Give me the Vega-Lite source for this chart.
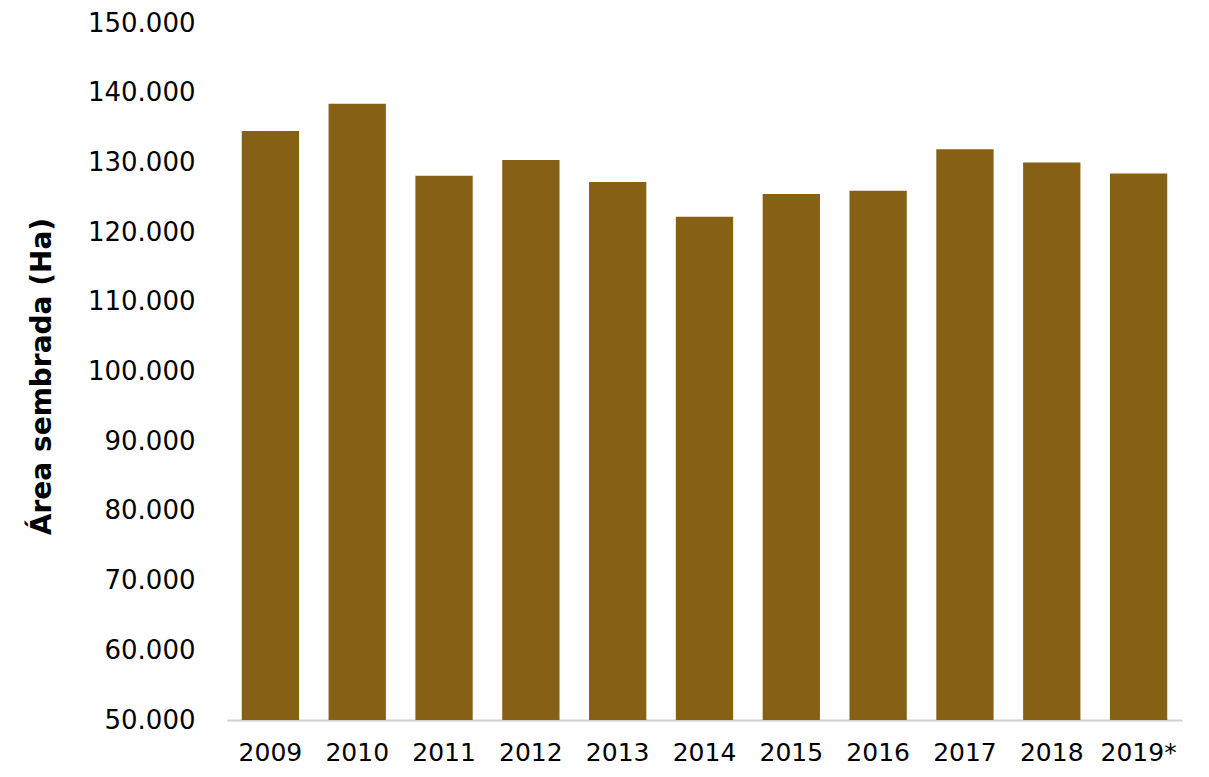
{
  "$schema": "https://vega.github.io/schema/vega-lite/v6.json",
  "width": 955,
  "height": 697,
  "autosize": "none",
  "padding": {"left": 227, "top": 23, "right": 27, "bottom": 57},
  "background": "white",
  "config": {"view": {"stroke": null}, "font": "DejaVu Sans"},
  "data": {
    "values": [
      {"year": "2009", "area": 134500},
      {"year": "2010", "area": 138400},
      {"year": "2011", "area": 128100},
      {"year": "2012", "area": 130350},
      {"year": "2013", "area": 127200},
      {"year": "2014", "area": 122200},
      {"year": "2015", "area": 125450},
      {"year": "2016", "area": 125950},
      {"year": "2017", "area": 131900},
      {"year": "2018", "area": 130000},
      {"year": "2019*", "area": 128400}
    ]
  },
  "mark": {"type": "bar", "color": "#866014", "clip": true},
  "encoding": {
    "x": {
      "field": "year",
      "type": "nominal",
      "sort": null,
      "scale": {"paddingInner": 0.34, "paddingOuter": 0.17},
      "axis": {
        "title": null,
        "labelAngle": 0,
        "labelFontSize": 25,
        "labelColor": "#000000",
        "labelPadding": 20,
        "labelOverlap": false,
        "labelFlush": false,
        "labelBound": false,
        "ticks": false,
        "domainColor": "#d0d0d0",
        "domainWidth": 2
      }
    },
    "y": {
      "field": "area",
      "type": "quantitative",
      "scale": {"domain": [50000, 150000], "nice": false, "zero": false},
      "axis": {
        "title": "Área sembrada (Ha)",
        "titleFontSize": 28,
        "titleFontWeight": "bold",
        "titleColor": "#000000",
        "titleAngle": -90,
        "titleX": -185,
        "titleY": 353,
        "titleAlign": "center",
        "titleBaseline": "middle",
        "values": [50000, 60000, 70000, 80000, 90000, 100000, 110000, 120000, 130000, 140000, 150000],
        "labelExpr": "replace(format(datum.value, ',d'), ',', '.')",
        "labelFontSize": 26,
        "labelColor": "#000000",
        "labelPadding": 32,
        "labelOverlap": false,
        "labelFlush": false,
        "labelBound": false,
        "ticks": false,
        "domain": false,
        "grid": false
      }
    }
  }
}
